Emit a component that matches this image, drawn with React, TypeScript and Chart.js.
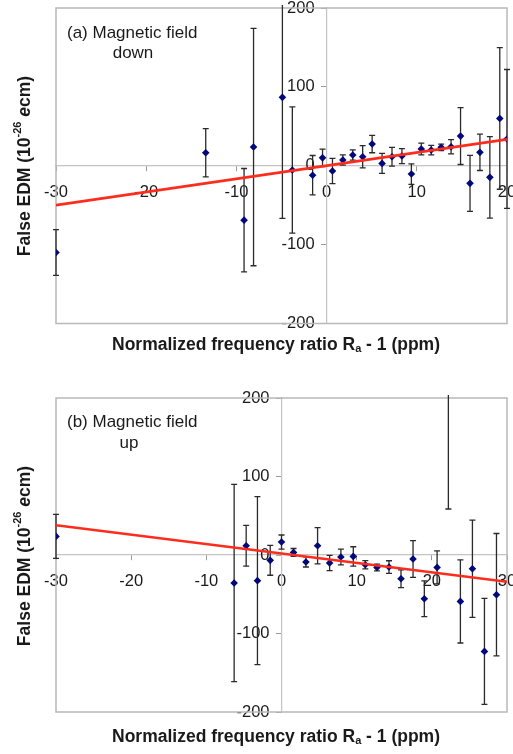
import { useEffect, useRef } from "react";
import { Chart, registerables } from "chart.js";

Chart.register(...registerables);

// ---------- Data: panel (a) magnetic field down ----------
const downX = [-30, -13.4, -9.15, -8.1, -4.9, -3.8, -1.55, -0.45, 0.65, 1.8, 2.9, 4.0, 5.05, 6.15, 7.25, 8.35, 9.4, 10.5, 11.6, 12.7, 13.8, 14.85, 15.9, 17.0, 18.1, 19.2, 20.0];
const downY = [-110, 16.5, -69, 23.7, 86.7, -5.4, -12, 10, -6.7, 7.2, 13.6, 11.4, 27.5, 3, 11.4, 12.3, -10.5, 21.2, 19.9, 23.3, 24.1, 37.6, -22.3, 17, -14.7, 60, 34];
const downErr = [29, 30.6, 65.5, 150.5, 153.4, 80, 25, 11, 16, 6.5, 6.5, 14, 11, 12.7, 12, 9.5, 13, 7.4, 6, 4, 9, 36, 35.5, 23, 51.7, 89.8, 88];
const downFitX = [-30, 20];
const downFitY = [-50, 33.5];
const downXTicks = [-30, -20, -10, 0, 10, 20];

// ---------- Data: panel (b) magnetic field up ----------
const upX = [-30, -6.3, -4.7, -3.2, -1.5, 0, 1.6, 3.25, 4.8, 6.4, 7.9, 9.55, 11.15, 12.7, 14.3, 15.9, 17.5, 19.0, 20.7, 22.2, 23.8, 25.4, 27.0, 28.6];
const upY = [23.7, -35.7, 11.8, -32.7, -6.8, 16.5, 3.3, -8.9, 11.8, -10.2, -2.5, -1.8, -12.4, -15.8, -15.3, -30.2, -5.1, -55.7, -15.8, 210, -59.1, -17.5, -122.8, -50.6];
const upErr = [28, 125.7, 26, 107, 19, 9, 5, 6.4, 23, 9.6, 10, 12.3, 5.3, 4.3, 8, 11.3, 23.4, 22.7, 21, 151.4, 53, 62, 67.5, 78];
const upFitX = [-30, 30];
const upFitY = [38, -34];
const upXTicks = [-30, -20, -10, 0, 10, 20, 30];

const yTicks = [-200, -100, 0, 100, 200];

const FONT = "'Liberation Sans', Arial, Helvetica, sans-serif";

type PanelProps = {
  xs: number[];
  ys: number[];
  errs: number[];
  fitX: number[];
  fitY: number[];
  xTicks: number[];
  xMin: number;
  xMax: number;
  padding: { left: number; right: number; top: number; bottom: number };
  label1: string;
  label2: string;
  label1Pos: [number, number];
  label2Pos: [number, number];
  xTitlePos: [number, number];
  yTitlePos: [number, number];
};

const errorBarsPlugin = {
  id: "errorBars",
  beforeDatasetsDraw(chart: any, _args: any, opts: any) {
    const { ctx, chartArea, scales } = chart;
    const xs: number[] = opts.xs;
    const ys: number[] = opts.ys;
    const errs: number[] = opts.errs;
    // plot box
    ctx.save();
    ctx.strokeStyle = "#b8b8b8";
    ctx.lineWidth = 1.5;
    ctx.strokeRect(chartArea.left, chartArea.top, chartArea.right - chartArea.left, chartArea.bottom - chartArea.top);
    ctx.restore();

    ctx.save();
    ctx.beginPath();
    ctx.rect(chartArea.left - 4, chartArea.top - 3, chartArea.right - chartArea.left + 8, chartArea.bottom - chartArea.top + 3);
    ctx.clip();
    ctx.strokeStyle = "#2a2a2a";
    ctx.lineWidth = 1.3;
    const cap = 3;
    for (let i = 0; i < xs.length; i++) {
      const px = scales.x.getPixelForValue(xs[i]);
      const top = scales.y.getPixelForValue(ys[i] + errs[i]);
      const bot = scales.y.getPixelForValue(ys[i] - errs[i]);
      ctx.beginPath();
      ctx.moveTo(px, top);
      ctx.lineTo(px, bot);
      ctx.moveTo(px - cap, top);
      ctx.lineTo(px + cap, top);
      ctx.moveTo(px - cap, bot);
      ctx.lineTo(px + cap, bot);
      ctx.stroke();
    }
    ctx.restore();
  },
};

function drawSegments(ctx: CanvasRenderingContext2D, segs: { t: string; f: string; dy?: number }[], cx: number, cy: number) {
  let total = 0;
  for (const s of segs) {
    ctx.font = s.f;
    total += ctx.measureText(s.t).width;
  }
  let x = cx - total / 2;
  ctx.textAlign = "left";
  ctx.textBaseline = "middle";
  for (const s of segs) {
    ctx.font = s.f;
    ctx.fillText(s.t, x, cy + (s.dy || 0));
    x += ctx.measureText(s.t).width;
  }
}

const textPlugin = {
  id: "panelText",
  afterDraw(chart: any, _args: any, opts: any) {
    const ctx: CanvasRenderingContext2D = chart.ctx;
    ctx.save();
    ctx.fillStyle = "#1a1a1a";
    ctx.font = `17px ${FONT}`;
    ctx.textBaseline = "middle";
    ctx.textAlign = "left";
    ctx.fillText(opts.label1, opts.label1Pos[0], opts.label1Pos[1]);
    ctx.textAlign = "center";
    ctx.fillText(opts.label2, opts.label2Pos[0], opts.label2Pos[1]);

    const B = `bold 17.5px ${FONT}`;
    const Bs = `bold 11px ${FONT}`;
    drawSegments(
      ctx,
      [
        { t: "Normalized frequency ratio R", f: B },
        { t: "a", f: Bs, dy: 4 },
        { t: " - 1 (ppm)", f: B },
      ],
      opts.xTitlePos[0],
      opts.xTitlePos[1]
    );

    ctx.translate(opts.yTitlePos[0], opts.yTitlePos[1]);
    ctx.rotate(-Math.PI / 2);
    drawSegments(
      ctx,
      [
        { t: "False EDM (10", f: B },
        { t: "-26", f: Bs, dy: -7 },
        { t: " ", f: B },
        { t: "e", f: `italic bold 17.5px ${FONT}` },
        { t: "cm)", f: B },
      ],
      0,
      0
    );
    ctx.restore();
  },
};

function Panel(p: PanelProps) {
  const ref = useRef<HTMLCanvasElement | null>(null);
  useEffect(() => {
    if (!ref.current) return;
    const tickFont = { family: FONT, size: 16.5 };
    const chart = new Chart(ref.current, {
      type: "scatter",
      data: {
        datasets: [
          {
            label: "fit",
            data: p.fitX.map((x, i) => ({ x, y: p.fitY[i] })),
            showLine: true,
            borderColor: "#ff2b1c",
            borderWidth: 2.6,
            pointRadius: 0,
            order: 0,
          } as any,
          {
            label: "data",
            data: p.xs.map((x, i) => ({ x, y: p.ys[i] })),
            pointStyle: "rectRot",
            pointRadius: 3.8,
            backgroundColor: "#00087a",
            borderColor: "#00087a",
            borderWidth: 0,
            order: 1,
          } as any,
        ],
      },
      options: {
        responsive: false,
        animation: false,
        events: [],
        layout: { padding: p.padding },
        plugins: {
          legend: { display: false },
          tooltip: { enabled: false },
          errorBars: { xs: p.xs, ys: p.ys, errs: p.errs },
          panelText: {
            label1: p.label1,
            label2: p.label2,
            label1Pos: p.label1Pos,
            label2Pos: p.label2Pos,
            xTitlePos: p.xTitlePos,
            yTitlePos: p.yTitlePos,
          },
        } as any,
        scales: {
          x: {
            type: "linear",
            min: p.xMin,
            max: p.xMax,
            position: { y: 0 } as any,
            afterFit: (s: any) => {
              s.height = 0;
              s.paddingLeft = 0;
              s.paddingRight = 0;
            },
            afterBuildTicks: (s: any) => {
              s.ticks = p.xTicks.map((v) => ({ value: v }));
            },
            grid: { drawOnChartArea: false, drawTicks: true, tickLength: 5, color: "#9a9a9a" },
            border: { display: true, color: "#c4c4c4", width: 1.2 },
            ticks: { font: tickFont, color: "#1a1a1a", padding: 12, maxRotation: 0, autoSkip: false },
          },
          y: {
            type: "linear",
            min: -200,
            max: 200,
            position: { x: 0 } as any,
            afterFit: (s: any) => {
              s.width = 0;
              s.paddingTop = 0;
              s.paddingBottom = 0;
              if (!s.__shifted && typeof s._computeLabelItems === "function") {
                const orig = s._computeLabelItems.bind(s);
                s._computeLabelItems = (ca: any) =>
                  orig(ca).map((it: any) => {
                    if (it && it.options && Array.isArray(it.options.translation)) {
                      it.options.translation = [it.options.translation[0] - 12, it.options.translation[1]];
                    }
                    return it;
                  });
                s.__shifted = true;
              }
            },
            afterBuildTicks: (s: any) => {
              s.ticks = yTicks.map((v) => ({ value: v }));
            },
            grid: { drawOnChartArea: false, drawTicks: true, tickLength: 5, color: "#9a9a9a" },
            border: { display: true, color: "#c4c4c4", width: 1.2 },
            ticks: { font: tickFont, color: "#1a1a1a", padding: 8, autoSkip: false },
          },
        },
      },
      plugins: [errorBarsPlugin, textPlugin],
    });
    return () => chart.destroy();
  }, []);
  return <canvas ref={ref} width={513} height={377} style={{ display: "block", width: 513, height: 377 }} />;
}

export default function App() {
  return (
    <div style={{ position: "absolute", left: 0, top: 0, width: 513, height: 754, background: "#fff" }}>
      <Panel
        xs={downX}
        ys={downY}
        errs={downErr}
        fitX={downFitX}
        fitY={downFitY}
        xTicks={downXTicks}
        xMin={-30}
        xMax={20}
        padding={{ left: 56, right: 6, top: 8, bottom: 53.5 }}
        label1="(a) Magnetic field"
        label2="down"
        label1Pos={[67, 33]}
        label2Pos={[133, 53]}
        xTitlePos={[276, 345]}
        yTitlePos={[25, 166]}
      />
      <Panel
        xs={upX}
        ys={upY}
        errs={upErr}
        fitX={upFitX}
        fitY={upFitY}
        xTicks={upXTicks}
        xMin={-30}
        xMax={30}
        padding={{ left: 56, right: 6, top: 21, bottom: 42 }}
        label1="(b) Magnetic field"
        label2="up"
        label1Pos={[67, 45]}
        label2Pos={[129, 66]}
        xTitlePos={[276, 360]}
        yTitlePos={[25, 179]}
      />
    </div>
  );
}
